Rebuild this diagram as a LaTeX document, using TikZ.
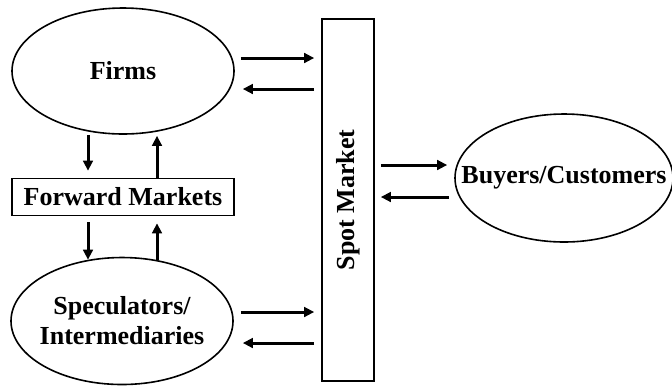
\documentclass[tikz,border=0pt]{standalone}
\usepackage{fontspec}
\setmainfont{Liberation Serif}
\usetikzlibrary{shapes.geometric, arrows.meta}

\begin{document}
\begin{tikzpicture}[
    x=0.5pt, y=-0.5pt,
    every node/.style={font=\fontsize{13}{15}\selectfont\bfseries, inner sep=0pt},
    market/.style={draw, ellipse, line width=0.8pt, align=center, inner xsep=-14pt},
    stepbox/.style={draw, rectangle, line width=0.8pt, align=center},
    arrow/.style={line width=1.5pt, -{Triangle[length=5pt, width=4.8pt]}}
]
    \useasboundingbox (0,0) rectangle (672,387);

    \node[market, minimum width=111pt, minimum height=63pt] (firms) at (123,71) {Firms};
    \node[stepbox, minimum width=111pt, minimum height=18.5pt] (fwd) at (123,197) {Forward Markets};
    \node[market, minimum width=111pt, minimum height=63.5pt] (spec) at (122,321) {Speculators/\\Intermediaries};
    \node[stepbox, minimum width=26pt, minimum height=181pt] (spot) at (348,200) {};
    \node[rotate=90] at (spot.center) {Spot Market};
    \node[market, minimum width=109pt, minimum height=64pt] (buyers) at (564,178) {Buyers/Customers};

    % firms <-> spot
    \draw[arrow] ([shift={(6,-13)}]firms.east) -- ([shift={(-7,-142)}]spot.west);
    \draw[arrow] ([shift={(-7,-111)}]spot.west) -- ([shift={(8,18)}]firms.east);
    % speculators <-> spot
    \draw[arrow] ([shift={(7,-9)}]spec.east) -- ([shift={(-7,112)}]spot.west);
    \draw[arrow] ([shift={(-7,143)}]spot.west) -- ([shift={(9,22)}]spec.east);
    % spot <-> buyers
    \draw[arrow] ([shift={(6,-35)}]spot.east) -- ([shift={(-7,-13)}]buyers.west);
    \draw[arrow] ([shift={(-5,19)}]buyers.west) -- ([shift={(6,-3)}]spot.east);
    % forward markets
    \draw[arrow] ([shift={(-35,0)}]firms.south) -- ([shift={(-35,-7)}]fwd.north);
    \draw[arrow] ([shift={(34,0)}]fwd.north) -- ([shift={(34,1)}]firms.south);
    \draw[arrow] ([shift={(-35,6)}]fwd.south) -- ([shift={(-34,3)}]spec.north);
    \draw[arrow] ([shift={(35,3.5)}]spec.north) -- ([shift={(34,7)}]fwd.south);
\end{tikzpicture}
\end{document}
